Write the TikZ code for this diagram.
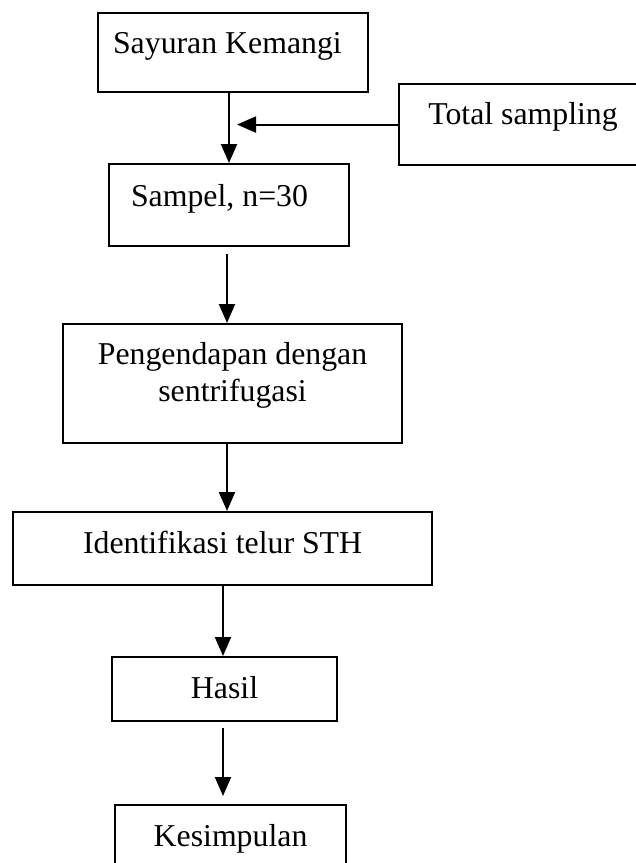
\documentclass[tikz,border=0pt]{standalone}
\usepackage{fontspec}
\setmainfont{Liberation Serif}
\usetikzlibrary{arrows.meta}
\tikzset{
  stepbox/.style = {draw, line width=2.1pt, inner ysep=0pt, inner xsep=4pt,
                    anchor=north west, font=\fontsize{31.8}{37}\selectfont},
  flow/.style    = {-{Triangle[length=19pt,width=16pt]}, line width=2.1pt},
}
\begin{document}
\begin{tikzpicture}[x=1pt, y=-1pt]
  \clip (0,0) rectangle (636,863);
  \fill[white] (0,0) rectangle (636,863);
  \node[stepbox, text width=240pt, inner xsep=15pt, align=flush left, text height=40pt, text depth=39pt] (sayur) at (97,12) {Sayuran Kemangi};
  \node[stepbox, minimum width=248pt, text height=40pt, text depth=41pt] (total) at (398,83) {Total sampling};
  \node[stepbox, text width=196pt, inner xsep=22pt, align=flush left, text height=42pt, text depth=40pt] (sampel) at (108,163) {Sampel, n=30};
  \node[stepbox, minimum width=339pt, align=center, text height=77pt, text depth=42pt] (endap) at (62,323) {Pengendapan dengan\\sentrifugasi};
  \node[stepbox, minimum width=419pt, text height=41pt, text depth=32pt] (ident) at (12,511) {Identifikasi telur STH};
  \node[stepbox, minimum width=225pt, text height=41pt, text depth=23pt] (hasil) at (111,656) {Hasil};
  \node[stepbox, minimum width=231pt, text height=41pt, text depth=25pt] (simpul) at (114,804) {Kesimpulan};
  \coordinate (join) at (total.west -| 229,0);
  \draw[flow] (sayur.south -| join) -- (sampel.north -| join);
  \draw[flow, shorten >=8pt] (total.west) -- (join);
  \draw[flow, shorten <=7pt] (sampel.south -| 227,0) -- (endap.north -| 227,0);
  \draw[flow] (endap.south -| 227,0) -- (ident.north -| 227,0);
  \draw[flow] (ident.south -| 223,0) -- (hasil.north -| 223,0);
  \draw[flow, shorten <=6pt, shorten >=8pt] (hasil.south -| 223,0) -- (simpul.north -| 223,0);
\end{tikzpicture}
\end{document}
